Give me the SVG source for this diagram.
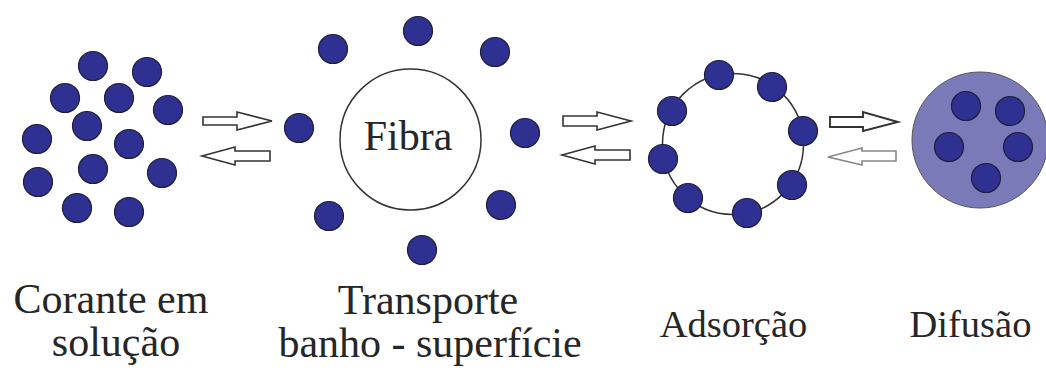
<svg xmlns="http://www.w3.org/2000/svg" width="1046" height="372" viewBox="0 0 1046 372">
  <style>
    .dot { fill: #2e3192; stroke: #1e1e3a; stroke-width: 1.2; }
    .ring { fill: none; stroke: #333; stroke-width: 1.5; }
    .arrow { fill: #fff; stroke: #333; stroke-width: 1.6; stroke-linejoin: miter; }
    .arrow.light { stroke: #888; }
    .label { font-size: 42px; fill: #262626; text-anchor: middle; }
    .label.small { font-size: 38.5px; }
  </style>
  <defs>
    <circle id="d" r="14.5" class="dot"/>
  </defs>
  <rect width="1046" height="372" fill="#fff"/>

  <g font-family="Liberation Serif, DejaVu Serif, Times New Roman, serif">
  <!-- Dye molecules free in solution -->
  <g id="solution">
    <use href="#d" x="93" y="66"/>
    <use href="#d" x="147" y="72"/>
    <use href="#d" x="65" y="98"/>
    <use href="#d" x="119" y="98"/>
    <use href="#d" x="168" y="110"/>
    <use href="#d" x="87" y="126"/>
    <use href="#d" x="37" y="139"/>
    <use href="#d" x="129" y="144"/>
    <use href="#d" x="93" y="169"/>
    <use href="#d" x="162" y="173"/>
    <use href="#d" x="38" y="182"/>
    <use href="#d" x="77" y="208"/>
    <use href="#d" x="129" y="212"/>
    <text class="label" x="111" y="313">Corante em</text>
    <text class="label" x="116" y="356">solução</text>
  </g>

  <!-- Transport from the bath towards the fibre surface -->
  <g id="transport">
    <circle class="ring" cx="410.5" cy="139.5" r="70.5"/>
    <text class="label" x="408" y="150">Fibra</text>
    <use href="#d" x="418" y="31"/>
    <use href="#d" x="333" y="49"/>
    <use href="#d" x="495" y="52"/>
    <use href="#d" x="299" y="128"/>
    <use href="#d" x="525" y="133"/>
    <use href="#d" x="329" y="216"/>
    <use href="#d" x="501" y="205"/>
    <use href="#d" x="422" y="250"/>
    <text class="label" x="428" y="314">Transporte</text>
    <text class="label" x="430" y="357">banho - superfície</text>
  </g>

  <!-- Adsorption on the fibre surface -->
  <g id="adsorption">
    <circle class="ring" cx="733" cy="144" r="70.5"/>
    <use href="#d" x="719" y="75"/>
    <use href="#d" x="772" y="87"/>
    <use href="#d" x="672" y="111"/>
    <use href="#d" x="803" y="131"/>
    <use href="#d" x="663" y="159"/>
    <use href="#d" x="792" y="185"/>
    <use href="#d" x="688" y="198"/>
    <use href="#d" x="747" y="213"/>
    <text class="label small" x="733.5" y="337">Adsorção</text>
  </g>

  <!-- Diffusion into the fibre interior -->
  <g id="diffusion">
    <circle cx="980" cy="140" r="68" fill="#7a7ab9" stroke="#555" stroke-width="1"/>
    <use href="#d" x="966" y="106"/>
    <use href="#d" x="1010" y="111"/>
    <use href="#d" x="949" y="147"/>
    <use href="#d" x="1018" y="147"/>
    <use href="#d" x="986" y="178"/>
    <text class="label small" x="970.5" y="337">Difusão</text>
  </g>
  </g>

  <!-- Reversible equilibrium arrows between stages -->
  <g id="connectors">
    <polygon class="arrow" points="203,117 237,117 237,112 272,121 237,130 237,125 203,125"/>
    <polygon class="arrow" points="270,151 235,151 235,147 202,156 235,165 235,161 270,161"/>
    <polygon class="arrow" points="563,116 597,116 597,112 631,121 597,130 597,126 563,126"/>
    <polygon class="arrow" points="630,150 595,150 595,146 562,155 595,164 595,160 630,160"/>
    <polygon class="arrow" points="830,117 863,117 863,112 898,122 863,131 863,127 830,127" style="stroke-width:1.9"/>
    <polygon class="arrow light" points="896,151 862,151 862,148 828,157 862,165 862,161 896,161"/>
  </g>
</svg>
